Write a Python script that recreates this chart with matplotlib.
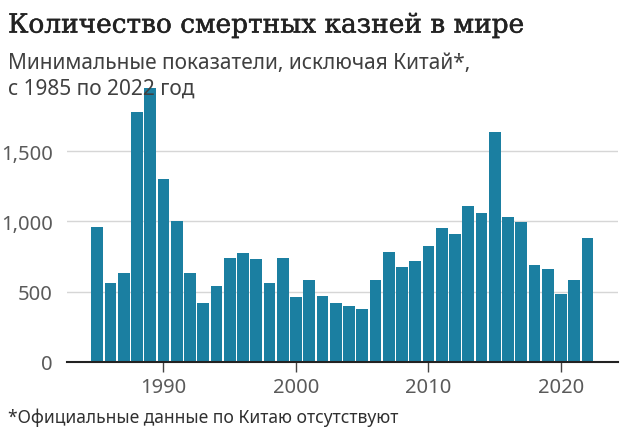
import matplotlib
matplotlib.use("Agg")
import matplotlib.pyplot as plt
import matplotlib.patheffects as pe
from matplotlib.ticker import FuncFormatter

# executions per year, minimum figures excluding China
years = list(range(1985, 2023))
executions = [959, 563, 634, 1776, 1949, 1299, 1000, 630, 420, 539,
              741, 772, 729, 558, 736, 458, 580, 466, 420, 397,
              378, 580, 781, 672, 717, 826, 952, 912, 1111, 1061,
              1634, 1032, 993, 690, 657, 483, 579, 883]
xticks = [1990, 2000, 2010, 2020]
yticks = [0, 500, 1000, 1500]

title = "Количество смертных казней в мире"
subtitle = "Минимальные показатели, исключая Китай*,\nс 1985 по 2022 год"
note = "*Официальные данные по Китаю отсутствуют"

bar_col = "#1b7fa1"
grey = "#5a5a5a"

fig = plt.figure(figsize=(6.4, 4.35), dpi=100)
ax = fig.add_axes([0.1042, 0.1662, 0.8614, 0.6455])

ax.bar(years, executions, width=0.88, color=bar_col, zorder=2)
ax.set_xlim(1982.7, 2024.3)
ax.set_ylim(0, 2000)

ax.set_yticks(yticks)
ax.yaxis.set_major_formatter(FuncFormatter(lambda v, p: f"{int(v):,}"))
ax.grid(axis="y", color="#d6d6d6", lw=1, zorder=0)
ax.tick_params(axis="y", length=0, pad=10, labelsize=14.5, labelcolor=grey)

ax.set_xticks(xticks)
ax.tick_params(axis="x", length=7, width=1, color="#444444", pad=4,
               labelsize=14.5, labelcolor=grey)

for s in ["top", "right", "left"]:
    ax.spines[s].set_visible(False)
ax.spines["bottom"].set_color("#222222")
ax.spines["bottom"].set_linewidth(1.5)
ax.spines["bottom"].set_zorder(3)

for lab in ax.get_xticklabels() + ax.get_yticklabels():
    lab.set_family("Noto Sans")

# medium-weight serif title: regular face with a thin stroke
fig.text(0.0125, 0.94, title, family="DejaVu Serif", fontsize=19,
         color="#222222", va="center", ha="left",
         path_effects=[pe.withStroke(linewidth=0.35, foreground="#222222")])
fig.text(0.0125, 0.824, subtitle, family="Noto Sans", fontsize=15,
         color="#404040", va="center", ha="left", linespacing=1.3)
fig.text(0.0125, 0.04, note, family="Noto Sans", fontsize=12.6,
         color="#303030", va="center", ha="left")

fig.savefig("out.png", dpi=100, facecolor="white")
